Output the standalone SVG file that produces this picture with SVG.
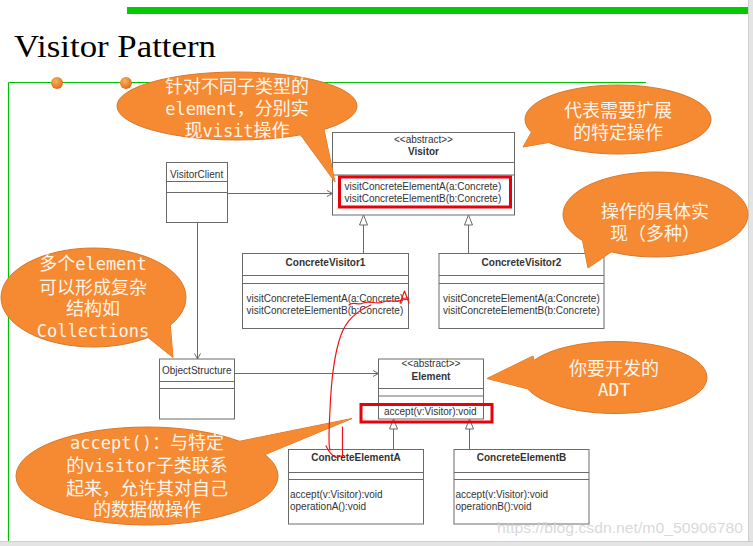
<svg xmlns="http://www.w3.org/2000/svg" width="753" height="546" viewBox="0 0 753 546">
<defs>
<style>
.box{fill:#fff;stroke:#6a6a6a;stroke-width:1}
.ln{fill:none;stroke:#6a6a6a;stroke-width:1}
.tri{fill:#fff;stroke:#6a6a6a;stroke-width:1}
.uml{font-family:"Liberation Sans",Arial,sans-serif;font-size:10px;fill:#333}
.umlc{font-family:"Liberation Sans",Arial,sans-serif;font-size:10px;fill:#333;text-anchor:middle}
.b{font-weight:bold}
.co{fill:#F58A32;stroke:#D9782A;stroke-width:1}
.cof{fill:#F58A32;stroke:none}
.ct{font-family:"DejaVu Sans Mono","Noto Sans CJK SC",monospace;font-size:18px;fill:#FFF4EA;text-anchor:middle}
.m{font-size:17px}
.hl{fill:none;stroke:#E8000B;stroke-width:3}
.red{fill:none;stroke:#F01414;stroke-width:1.2;stroke-linecap:round;stroke-linejoin:round}
</style>
<radialGradient id="dot" cx="0.4" cy="0.35" r="0.7">
<stop offset="0" stop-color="#FFB060"/>
<stop offset="1" stop-color="#D86A12"/>
</radialGradient>
</defs>
<rect x="0" y="0" width="753" height="546" fill="#fff"/>

<g id="frame">
<rect x="127" y="7" width="626" height="7" fill="#00CC00"/>
<line x1="8.5" y1="82.5" x2="646" y2="82.5" stroke="#00C000" stroke-width="1.2"/>
<line x1="8.5" y1="82.5" x2="8.5" y2="541" stroke="#00C000" stroke-width="1.2"/>
<circle cx="57" cy="83" r="6" fill="url(#dot)"/>
<circle cx="126" cy="83" r="6" fill="url(#dot)"/>
<text x="14" y="57" font-family="'Liberation Serif','Times New Roman',serif" font-size="32" textLength="202" lengthAdjust="spacingAndGlyphs" fill="#000">Visitor Pattern</text>
<rect x="748" y="0" width="5" height="546" fill="#e4e4e4"/>
<line x1="748.5" y1="0" x2="748.5" y2="546" stroke="#cfcfcf"/>
<rect x="0" y="541" width="753" height="5" fill="#e4e4e4"/>
<line x1="0" y1="541.5" x2="753" y2="541.5" stroke="#cfcfcf"/>
</g>

<g id="connectors">
<line class="ln" x1="227" y1="193.5" x2="332.5" y2="193.5"/>
<path class="ln" d="M327 190.5 L332.5 193.5 L327 196.5"/>
<line class="ln" x1="197.5" y1="222.5" x2="197.5" y2="359"/>
<path class="ln" d="M194.5 353.5 L197.5 359 L200.5 353.5"/>
<line class="ln" x1="234.5" y1="373.5" x2="378.5" y2="373.5"/>
<path class="ln" d="M373 370.5 L378.5 373.5 L373 376.5"/>
<line class="ln" x1="363.5" y1="225" x2="363.5" y2="253.5"/>
<path class="tri" d="M363.5 215 L359.5 225 L367.5 225 Z"/>
<line class="ln" x1="468.5" y1="225" x2="468.5" y2="253.5"/>
<path class="tri" d="M468.5 215 L464.5 225 L472.5 225 Z"/>
<line class="ln" x1="393.5" y1="429" x2="393.5" y2="449.5"/>
<path class="tri" d="M393.5 419 L389.5 429 L397.5 429 Z"/>
<line class="ln" x1="469.5" y1="429" x2="469.5" y2="449.5"/>
<path class="tri" d="M469.5 419 L465.5 429 L473.5 429 Z"/>
</g>

<g id="VisitorClient">
<rect class="box" x="166.5" y="162.5" width="61" height="60"/>
<line class="ln" x1="166.5" y1="181.5" x2="227.5" y2="181.5"/>
<line class="ln" x1="166.5" y1="192.5" x2="227.5" y2="192.5"/>
<text class="uml" x="170" y="177.5">VisitorClient</text>
</g>

<g id="Visitor">
<rect class="box" x="332.5" y="132.5" width="182" height="82.5"/>
<line class="ln" x1="332.5" y1="162.5" x2="514.5" y2="162.5"/>
<line class="ln" x1="332.5" y1="175" x2="514.5" y2="175"/>
<text class="umlc" x="423.5" y="142.5" font-size="9.5">&lt;&lt;abstract&gt;&gt;</text>
<text class="umlc b" x="423.5" y="154.5">Visitor</text>
<text class="uml" x="344.5" y="190">visitConcreteElementA(a:Concrete)</text>
<text class="uml" x="344.5" y="201.5">visitConcreteElementB(b:Concrete)</text>
<rect class="hl" x="339.5" y="177" width="171" height="30"/>
</g>

<g id="ConcreteVisitor1">
<rect class="box" x="242.5" y="253.5" width="166" height="75"/>
<line class="ln" x1="242.5" y1="275.5" x2="408.5" y2="275.5"/>
<line class="ln" x1="242.5" y1="283.5" x2="408.5" y2="283.5"/>
<text class="umlc b" x="325.5" y="265.5">ConcreteVisitor1</text>
<text class="uml" x="246.5" y="301.5">visitConcreteElementA(a:Concrete)</text>
<text class="uml" x="246.5" y="313.5">visitConcreteElementB(b:Concrete)</text>
</g>

<g id="ConcreteVisitor2">
<rect class="box" x="439" y="253.5" width="165" height="75"/>
<line class="ln" x1="439" y1="275.5" x2="604" y2="275.5"/>
<line class="ln" x1="439" y1="283.5" x2="604" y2="283.5"/>
<text class="umlc b" x="521.5" y="265.5">ConcreteVisitor2</text>
<text class="uml" x="443" y="301.5">visitConcreteElementA(a:Concrete)</text>
<text class="uml" x="443" y="313.5">visitConcreteElementB(b:Concrete)</text>
</g>

<g id="ObjectStructure">
<rect class="box" x="159.5" y="359" width="75" height="60"/>
<line class="ln" x1="159.5" y1="381.5" x2="234.5" y2="381.5"/>
<line class="ln" x1="159.5" y1="388.5" x2="234.5" y2="388.5"/>
<text class="uml" x="162" y="373.5">ObjectStructure</text>
</g>

<g id="Element">
<rect class="box" x="378.5" y="359" width="105" height="60"/>
<line class="ln" x1="378.5" y1="388.5" x2="483.5" y2="388.5"/>
<line class="ln" x1="378.5" y1="396" x2="483.5" y2="396"/>
<text class="umlc" x="431" y="367" font-size="9.5">&lt;&lt;abstract&gt;&gt;</text>
<text class="umlc b" x="431" y="379.5">Element</text>
<text class="uml" x="384" y="415">accept(v:Visitor):void</text>
<rect class="hl" x="361" y="404.5" width="131" height="17.5"/>
</g>

<g id="ConcreteElementA">
<rect class="box" x="288.5" y="449.5" width="135" height="74.5"/>
<line class="ln" x1="288.5" y1="472.5" x2="423.5" y2="472.5"/>
<line class="ln" x1="288.5" y1="479.5" x2="423.5" y2="479.5"/>
<text class="umlc b" x="356" y="461">ConcreteElementA</text>
<text class="uml" x="290" y="497.5">accept(v:Visitor):void</text>
<text class="uml" x="290" y="509.5">operationA():void</text>
</g>

<g id="ConcreteElementB">
<rect class="box" x="454" y="449.5" width="135" height="74.5"/>
<line class="ln" x1="454" y1="472.5" x2="589" y2="472.5"/>
<line class="ln" x1="454" y1="479.5" x2="589" y2="479.5"/>
<text class="umlc b" x="521.5" y="461">ConcreteElementB</text>
<text class="uml" x="455.5" y="497.5">accept(v:Visitor):void</text>
<text class="uml" x="455.5" y="509.5">operationB():void</text>
</g>

<g id="callout-visit">
<path class="co" d="M297 130 L335 182 L322 120 Z"/>
<ellipse class="co" cx="237" cy="106" rx="120" ry="34"/>
<path class="cof" d="M297 130 L335 182 L322 120 Z"/>
<text class="ct" y="93"><tspan x="237">针对不同子类型的</tspan><tspan x="237" y="115"><tspan class="m">element</tspan>，分别实</tspan><tspan x="237" y="137">现<tspan class="m">visit</tspan>操作</tspan></text>
</g>

<g id="callout-extend">
<path class="co" d="M535 126 L523 147 L557 141 Z"/>
<ellipse class="co" cx="618" cy="119.5" rx="93" ry="34.5"/>
<path class="cof" d="M535 126 L523 147 L557 141 Z"/>
<text class="ct"><tspan x="618" y="117">代表需要扩展</tspan><tspan x="618" y="138.5">的特定操作</tspan></text>
</g>

<g id="callout-impl">
<path class="co" d="M582 238 L588 268 L614 250 Z"/>
<ellipse class="co" cx="655.5" cy="214.5" rx="92.5" ry="42.5"/>
<path class="cof" d="M582 238 L588 268 L614 250 Z"/>
<text class="ct"><tspan x="655" y="218">操作的具体实</tspan><tspan x="655" y="239.5">现（多种）</tspan></text>
</g>

<g id="callout-collections">
<path class="co" d="M145 335 L173 357.5 L170 322 Z"/>
<ellipse class="co" cx="93.5" cy="297.5" rx="92.5" ry="49.5"/>
<path class="cof" d="M145 335 L173 357.5 L170 322 Z"/>
<text class="ct"><tspan x="93" y="270">多个<tspan class="m">element</tspan></tspan><tspan x="93" y="293.5">可以形成复杂</tspan><tspan x="93" y="315">结构如</tspan><tspan x="93" y="337" class="m">Collections</tspan></text>
</g>

<g id="callout-adt">
<path class="co" d="M533 356 L487 378.5 L540 392 Z"/>
<ellipse class="co" cx="615" cy="377.5" rx="92" ry="36"/>
<path class="cof" d="M533 356 L487 378.5 L540 392 Z"/>
<text class="ct" x="614" y="375" font-family="'Noto Sans CJK SC',sans-serif">你要开发的</text>
<text class="ct" x="614" y="396" font-family="'Liberation Sans',Arial,sans-serif" font-size="17">ADT</text>
</g>

<g id="callout-accept">
<path class="co" d="M231 443 L352 418.5 L264 455 Z"/>
<ellipse class="co" cx="147" cy="476" rx="131" ry="49"/>
<path class="cof" d="M231 443 L352 418.5 L264 455 Z"/>
<text class="ct"><tspan x="147" y="448.5"><tspan class="m">accept()</tspan>：与特定</tspan><tspan x="147" y="472">的<tspan class="m">visitor</tspan>子类联系</tspan><tspan x="147" y="495">起来，允许其对自己</tspan><tspan x="147" y="516">的数据做操作</tspan></text>
</g>

<g id="annotation">
<path class="red" d="M349 305 C354 301 358 306 363 303 C370 300 376 305 383 302 C390 299 396 303 402 300 L409 299"/>
<path class="red" d="M400 303 L404.5 291 L409 303 M401.5 298.5 L408 298"/>
<path class="red" d="M371 305 C359 310 347 318 341 335 C333 357 331 385 330 410 C329 430 328 445 330 450"/>
<path class="red" d="M326 446 C329 452 332 456 336 457.5 L341 456"/>
<path class="red" d="M342.5 427 L342.5 457"/>
</g>

<text x="497" y="533" font-family="'Liberation Sans',Arial,sans-serif" font-size="15" textLength="246" lengthAdjust="spacingAndGlyphs" fill="#d4d4d4" fill-opacity="0.9">https://blog.csdn.net/m0_50906780</text>
</svg>
